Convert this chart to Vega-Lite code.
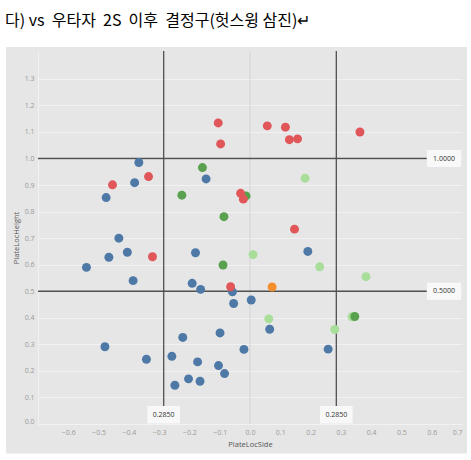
{
  "$schema": "https://vega.github.io/schema/vega-lite/v6.json",
  "width": 424,
  "height": 373,
  "autosize": {"type": "none"},
  "padding": {"left": 38, "top": 51, "right": 9, "bottom": 36},
  "background": "#e6e6e6",
  "title": {
    "text": "다) vs\u00a0 우타자\u00a0 2S\u00a0 이후\u00a0 결정구(헛스윙 삼진)↵",
    "anchor": "start",
    "frame": "group",
    "dx": -33,
    "offset": -42,
    "baseline": "alphabetic",
    "font": "Noto Sans CJK KR",
    "fontSize": 16,
    "fontWeight": "normal",
    "color": "#000000",
    "zindex": 1
  },
  "config": {
    "view": {"stroke": null},
    "axis": {
      "labelFont": "Open Sans",
      "labelFontSize": 7,
      "labelColor": "#9a9a9a",
      "labelOverlap": false,
      "titleFont": "Open Sans",
      "titleFontSize": 7.5,
      "titleFontWeight": "normal",
      "titleColor": "#555555",
      "ticks": false,
      "gridColor": "#f2f2f2",
      "gridWidth": 1,
      "domainColor": "#f2f2f2",
      "labelFlush": true
    },
    "axisX": {"labelPadding": 4.5, "titlePadding": 5},
    "axisY": {"labelPadding": 4, "titlePadding": 4}
  },
  "layer": [
    {
      "data": {"values": [{}]},
      "mark": {"type": "rule", "color": "#d3d3d3", "strokeWidth": 1},
      "encoding": {
        "x": {"datum": 0, "type": "quantitative", "axis": {"title": "PlateLocSide", "values": [-0.6, -0.5, -0.4, -0.3, -0.2, -0.1, 0, 0.1, 0.2, 0.3, 0.4, 0.5, 0.6, 0.7], "format": ".1f", "labelOverlap": false}}
      }
    },
    {
      "data": {"values": [{"level": 1.0}, {"level": 0.5}]},
      "mark": {"type": "rule", "color": "#505050", "strokeWidth": 1.3},
      "encoding": {
        "x": {"datum": -0.7, "type": "quantitative", "axis": {"title": "PlateLocSide", "values": [-0.6, -0.5, -0.4, -0.3, -0.2, -0.1, 0, 0.1, 0.2, 0.3, 0.4, 0.5, 0.6, 0.7], "format": ".1f", "labelOverlap": false}},
        "x2": {"datum": 0.584},
        "y": {"field": "level", "type": "quantitative", "axis": {"title": "PlateLocHeight", "values": [0, 0.1, 0.2, 0.3, 0.4, 0.5, 0.6, 0.7, 0.8, 0.9, 1.0, 1.1, 1.2, 1.3], "format": ".1f", "labelOverlap": false}}
      }
    },
    {
      "data": {"values": [{"edge": -0.285}, {"edge": 0.285}]},
      "mark": {"type": "rule", "color": "#505050", "strokeWidth": 1.3},
      "encoding": {
        "x": {"field": "edge", "type": "quantitative", "axis": {"title": "PlateLocSide", "values": [-0.6, -0.5, -0.4, -0.3, -0.2, -0.1, 0, 0.1, 0.2, 0.3, 0.4, 0.5, 0.6, 0.7], "format": ".1f", "labelOverlap": false}},
        "y": {"datum": 0.068, "type": "quantitative", "axis": {"title": "PlateLocHeight", "values": [0, 0.1, 0.2, 0.3, 0.4, 0.5, 0.6, 0.7, 0.8, 0.9, 1.0, 1.1, 1.2, 1.3], "format": ".1f", "labelOverlap": false}},
        "y2": {"datum": 1.405}
      }
    },
    {
      "data": {"values": [{"level": 1.0}, {"level": 0.5}]},
      "mark": {"type": "rule", "color": "#f8f8f8", "strokeWidth": 17, "strokeCap": "butt"},
      "encoding": {
        "x": {"datum": 0.584, "type": "quantitative", "axis": {"title": "PlateLocSide", "values": [-0.6, -0.5, -0.4, -0.3, -0.2, -0.1, 0, 0.1, 0.2, 0.3, 0.4, 0.5, 0.6, 0.7], "format": ".1f", "labelOverlap": false}},
        "x2": {"datum": 0.697},
        "y": {"field": "level", "type": "quantitative", "axis": {"title": "PlateLocHeight", "values": [0, 0.1, 0.2, 0.3, 0.4, 0.5, 0.6, 0.7, 0.8, 0.9, 1.0, 1.1, 1.2, 1.3], "format": ".1f", "labelOverlap": false}}
      }
    },
    {
      "data": {"values": [{"edge": -0.285}, {"edge": 0.285}]},
      "mark": {"type": "rule", "color": "#f8f8f8", "strokeWidth": 32.6, "strokeCap": "butt"},
      "encoding": {
        "x": {"field": "edge", "type": "quantitative", "axis": {"title": "PlateLocSide", "values": [-0.6, -0.5, -0.4, -0.3, -0.2, -0.1, 0, 0.1, 0.2, 0.3, 0.4, 0.5, 0.6, 0.7], "format": ".1f", "labelOverlap": false}},
        "y": {"datum": 0.002, "type": "quantitative", "axis": {"title": "PlateLocHeight", "values": [0, 0.1, 0.2, 0.3, 0.4, 0.5, 0.6, 0.7, 0.8, 0.9, 1.0, 1.1, 1.2, 1.3], "format": ".1f", "labelOverlap": false}},
        "y2": {"datum": 0.068}
      }
    },
    {
      "data": {"values": [{"level": 1.0}, {"level": 0.5}]},
      "mark": {"type": "text", "font": "Open Sans", "fontSize": 7, "color": "#333333"},
      "encoding": {
        "x": {"datum": 0.6405, "type": "quantitative", "axis": {"title": "PlateLocSide", "values": [-0.6, -0.5, -0.4, -0.3, -0.2, -0.1, 0, 0.1, 0.2, 0.3, 0.4, 0.5, 0.6, 0.7], "format": ".1f", "labelOverlap": false}},
        "y": {"field": "level", "type": "quantitative", "axis": {"title": "PlateLocHeight", "values": [0, 0.1, 0.2, 0.3, 0.4, 0.5, 0.6, 0.7, 0.8, 0.9, 1.0, 1.1, 1.2, 1.3], "format": ".1f", "labelOverlap": false}},
        "text": {"field": "level", "type": "quantitative", "format": ".4f"}
      }
    },
    {
      "data": {"values": [{"edge": -0.285}, {"edge": 0.285}]},
      "mark": {"type": "text", "font": "Open Sans", "fontSize": 7, "color": "#333333", "text": "0.2850"},
      "encoding": {
        "x": {"field": "edge", "type": "quantitative", "axis": {"title": "PlateLocSide", "values": [-0.6, -0.5, -0.4, -0.3, -0.2, -0.1, 0, 0.1, 0.2, 0.3, 0.4, 0.5, 0.6, 0.7], "format": ".1f", "labelOverlap": false}},
        "y": {"datum": 0.035, "type": "quantitative", "axis": {"title": "PlateLocHeight", "values": [0, 0.1, 0.2, 0.3, 0.4, 0.5, 0.6, 0.7, 0.8, 0.9, 1.0, 1.1, 1.2, 1.3], "format": ".1f", "labelOverlap": false}}
      }
    },
    {
      "data": {
        "values": [
          {"side": 0.182, "height": 0.926, "type": "E"},
          {"side": 0.010, "height": 0.638, "type": "E"},
          {"side": 0.230, "height": 0.592, "type": "E"},
          {"side": 0.383, "height": 0.555, "type": "E"},
          {"side": 0.062, "height": 0.396, "type": "E"},
          {"side": 0.337, "height": 0.404, "type": "E"},
          {"side": 0.280, "height": 0.356, "type": "E"},
          {"side": -0.367, "height": 0.985, "type": "A"},
          {"side": -0.145, "height": 0.923, "type": "A"},
          {"side": -0.381, "height": 0.909, "type": "A"},
          {"side": -0.475, "height": 0.853, "type": "A"},
          {"side": -0.433, "height": 0.700, "type": "A"},
          {"side": -0.405, "height": 0.647, "type": "A"},
          {"side": -0.466, "height": 0.628, "type": "A"},
          {"side": -0.180, "height": 0.645, "type": "A"},
          {"side": -0.540, "height": 0.590, "type": "A"},
          {"side": -0.386, "height": 0.540, "type": "A"},
          {"side": -0.191, "height": 0.530, "type": "A"},
          {"side": -0.163, "height": 0.507, "type": "A"},
          {"side": -0.058, "height": 0.498, "type": "A"},
          {"side": -0.054, "height": 0.454, "type": "A"},
          {"side": -0.099, "height": 0.343, "type": "A"},
          {"side": -0.222, "height": 0.326, "type": "A"},
          {"side": -0.479, "height": 0.291, "type": "A"},
          {"side": -0.258, "height": 0.255, "type": "A"},
          {"side": -0.342, "height": 0.244, "type": "A"},
          {"side": -0.173, "height": 0.234, "type": "A"},
          {"side": -0.104, "height": 0.220, "type": "A"},
          {"side": -0.084, "height": 0.190, "type": "A"},
          {"side": -0.203, "height": 0.170, "type": "A"},
          {"side": -0.165, "height": 0.161, "type": "A"},
          {"side": -0.248, "height": 0.146, "type": "A"},
          {"side": -0.020, "height": 0.281, "type": "A"},
          {"side": 0.191, "height": 0.650, "type": "A"},
          {"side": 0.004, "height": 0.467, "type": "A"},
          {"side": 0.065, "height": 0.357, "type": "A"},
          {"side": 0.258, "height": 0.282, "type": "A"},
          {"side": -0.157, "height": 0.966, "type": "C"},
          {"side": -0.225, "height": 0.862, "type": "C"},
          {"side": -0.086, "height": 0.781, "type": "C"},
          {"side": -0.089, "height": 0.599, "type": "C"},
          {"side": -0.013, "height": 0.859, "type": "C"},
          {"side": 0.346, "height": 0.405, "type": "C"},
          {"side": 0.073, "height": 0.516, "type": "D"},
          {"side": -0.105, "height": 1.134, "type": "B"},
          {"side": -0.097, "height": 1.055, "type": "B"},
          {"side": -0.335, "height": 0.932, "type": "B"},
          {"side": -0.454, "height": 0.901, "type": "B"},
          {"side": 0.057, "height": 1.123, "type": "B"},
          {"side": 0.117, "height": 1.118, "type": "B"},
          {"side": 0.130, "height": 1.071, "type": "B"},
          {"side": 0.157, "height": 1.074, "type": "B"},
          {"side": 0.363, "height": 1.100, "type": "B"},
          {"side": -0.031, "height": 0.869, "type": "B"},
          {"side": -0.022, "height": 0.847, "type": "B"},
          {"side": 0.147, "height": 0.734, "type": "B"},
          {"side": -0.322, "height": 0.630, "type": "B"},
          {"side": -0.064, "height": 0.517, "type": "B"}
        ]
      },
      "mark": {"type": "circle", "size": 80, "opacity": 1},
      "encoding": {
        "x": {
          "field": "side",
          "type": "quantitative",
          "scale": {"domain": [-0.7, 0.7], "nice": false, "zero": false},
          "axis": {"title": "PlateLocSide", "values": [-0.6, -0.5, -0.4, -0.3, -0.2, -0.1, 0, 0.1, 0.2, 0.3, 0.4, 0.5, 0.6, 0.7], "format": ".1f", "labelOverlap": false}
        },
        "y": {
          "field": "height",
          "type": "quantitative",
          "scale": {"domain": [0, 1.405], "nice": false, "zero": false},
          "axis": {"title": "PlateLocHeight", "values": [0, 0.1, 0.2, 0.3, 0.4, 0.5, 0.6, 0.7, 0.8, 0.9, 1.0, 1.1, 1.2, 1.3], "format": ".1f", "labelOverlap": false}
        },
        "color": {
          "field": "type",
          "type": "nominal",
          "scale": {
            "domain": ["E", "A", "C", "D", "B"],
            "range": ["#a8de99", "#4e79a7", "#59a14f", "#f28e2b", "#e15759"]
          },
          "legend": null
        }
      }
    },
    {
      "data": {"values": [{}]},
      "mark": {"type": "rect", "color": "white", "clip": false},
      "encoding": {
        "x": {"datum": -0.9, "type": "quantitative", "axis": {"title": "PlateLocSide", "values": [-0.6, -0.5, -0.4, -0.3, -0.2, -0.1, 0, 0.1, 0.2, 0.3, 0.4, 0.5, 0.6, 0.7], "format": ".1f", "labelOverlap": false}},
        "x2": {"datum": 0.8},
        "y": {"datum": 1.42, "type": "quantitative", "axis": {"title": "PlateLocHeight", "values": [0, 0.1, 0.2, 0.3, 0.4, 0.5, 0.6, 0.7, 0.8, 0.9, 1.0, 1.1, 1.2, 1.3], "format": ".1f", "labelOverlap": false}},
        "y2": {"datum": 1.5976}
      }
    },
    {
      "data": {"values": [{}]},
      "mark": {"type": "rect", "color": "white", "clip": false},
      "encoding": {
        "x": {"datum": -0.9, "type": "quantitative", "axis": {"title": "PlateLocSide", "values": [-0.6, -0.5, -0.4, -0.3, -0.2, -0.1, 0, 0.1, 0.2, 0.3, 0.4, 0.5, 0.6, 0.7], "format": ".1f", "labelOverlap": false}},
        "x2": {"datum": -0.8055},
        "y": {"datum": -0.3, "type": "quantitative", "axis": {"title": "PlateLocHeight", "values": [0, 0.1, 0.2, 0.3, 0.4, 0.5, 0.6, 0.7, 0.8, 0.9, 1.0, 1.1, 1.2, 1.3], "format": ".1f", "labelOverlap": false}},
        "y2": {"datum": 1.42}
      }
    },
    {
      "data": {"values": [{}]},
      "mark": {"type": "rect", "color": "white", "clip": false},
      "encoding": {
        "x": {"datum": 0.7165, "type": "quantitative", "axis": {"title": "PlateLocSide", "values": [-0.6, -0.5, -0.4, -0.3, -0.2, -0.1, 0, 0.1, 0.2, 0.3, 0.4, 0.5, 0.6, 0.7], "format": ".1f", "labelOverlap": false}},
        "x2": {"datum": 0.8},
        "y": {"datum": -0.3, "type": "quantitative", "axis": {"title": "PlateLocHeight", "values": [0, 0.1, 0.2, 0.3, 0.4, 0.5, 0.6, 0.7, 0.8, 0.9, 1.0, 1.1, 1.2, 1.3], "format": ".1f", "labelOverlap": false}},
        "y2": {"datum": 1.42}
      }
    },
    {
      "data": {"values": [{}]},
      "mark": {"type": "rect", "color": "white", "clip": false},
      "encoding": {
        "x": {"datum": -0.9, "type": "quantitative", "axis": {"title": "PlateLocSide", "values": [-0.6, -0.5, -0.4, -0.3, -0.2, -0.1, 0, 0.1, 0.2, 0.3, 0.4, 0.5, 0.6, 0.7], "format": ".1f", "labelOverlap": false}},
        "x2": {"datum": 0.8},
        "y": {"datum": -0.3, "type": "quantitative", "axis": {"title": "PlateLocHeight", "values": [0, 0.1, 0.2, 0.3, 0.4, 0.5, 0.6, 0.7, 0.8, 0.9, 1.0, 1.1, 1.2, 1.3], "format": ".1f", "labelOverlap": false}},
        "y2": {"datum": -0.111}
      }
    }
  ]
}
